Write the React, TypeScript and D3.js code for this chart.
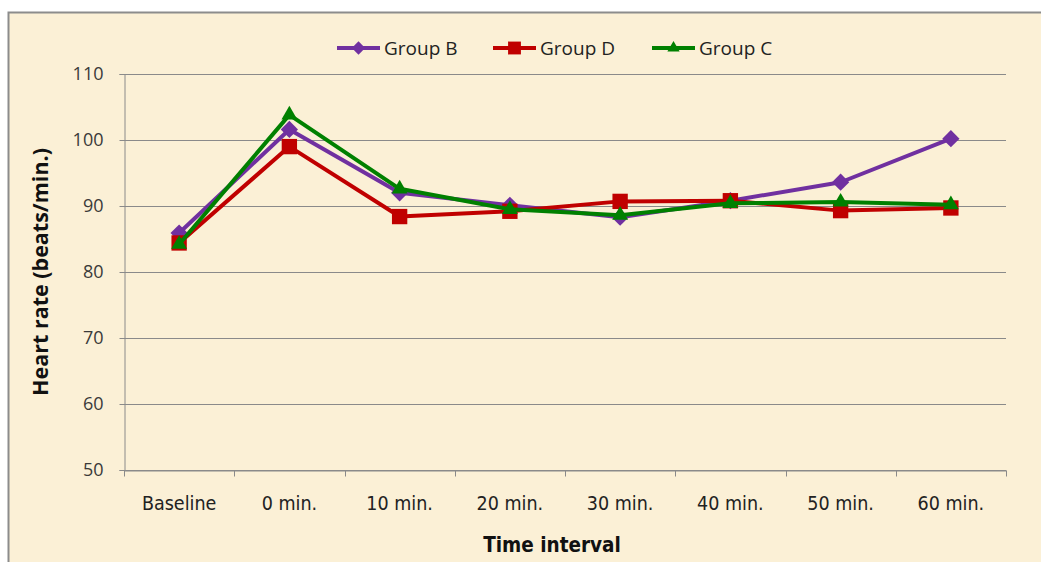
import { useEffect, useRef } from "react";
import * as d3 from "d3";

const categories = ["Baseline", "0 min.", "10 min.", "20 min.", "30 min.", "40 min.", "50 min.", "60 min."];
const groupB = [85.9, 101.6, 92.0, 90.1, 88.3, 90.8, 93.6, 100.2];
const groupD = [84.4, 99.0, 88.4, 89.2, 90.7, 90.8, 89.3, 89.7];
const groupC = [84.2, 103.8, 92.6, 89.5, 88.6, 90.4, 90.6, 90.2];
const yTicks = [50, 60, 70, 80, 90, 100, 110];

const series = [
  { name: "Group B", values: groupB, color: "#7030a0", marker: "diamond" },
  { name: "Group D", values: groupD, color: "#c00000", marker: "square" },
  { name: "Group C", values: groupC, color: "#008000", marker: "triangle" },
];

const width = 1041;
const height = 562;
const marginTop = 74;
const marginRight = 35;
const marginBottom = 92;
const marginLeft = 124;

const sansFont = "'Open Sans', 'DejaVu Sans', sans-serif";
const narrowFont = "'Liberation Sans Narrow', 'DejaVu Sans Condensed', 'Roboto Condensed', sans-serif";

function markerPath(kind: string, k = 1) {
  if (kind === "diamond") return d3.symbol(d3.symbolDiamond2, 190 * k)();
  if (kind === "square") return d3.symbol(d3.symbolSquare2, 300 * k)();
  return d3.symbol(d3.symbolTriangle2, 180 * k)();
}

export default function App() {
  const ref = useRef(null);

  useEffect(() => {
    const svg = d3.select(ref.current);
    svg.selectAll("*").remove();

    const x = d3.scaleBand()
      .domain(categories)
      .range([marginLeft, width - marginRight]);

    const y = d3.scaleLinear()
      .domain([50, 110])
      .range([height - marginBottom, marginTop]);

    // background + outer frame
    svg.append("rect")
      .attr("x", 0).attr("y", 0)
      .attr("width", width).attr("height", height)
      .attr("fill", "#fff");
    svg.append("rect")
      .attr("x", 8.5).attr("y", 12.5)
      .attr("width", width + 20).attr("height", height + 20)
      .attr("fill", "#fbf0d6")
      .attr("stroke", "#8c8c8c")
      .attr("stroke-width", 2);

    // gridlines
    svg.append("g")
      .selectAll("line")
      .data(yTicks)
      .join("line")
      .attr("x1", marginLeft)
      .attr("x2", width - marginRight)
      .attr("y1", d => Math.round(y(d)) + 0.5)
      .attr("y2", d => Math.round(y(d)) + 0.5)
      .attr("stroke", "#8a8a8a")
      .attr("stroke-width", 1);

    // y axis
    const gy = svg.append("g").attr("transform", `translate(${marginLeft + 0.5},0)`);
    gy.call(d3.axisLeft(y).tickValues(yTicks).tickSize(5).tickPadding(16))
      .call(g => g.select(".domain").attr("stroke", "#8a8a8a"))
      .call(g => g.selectAll(".tick line").attr("stroke", "#8a8a8a"))
      .call(g => g.selectAll(".tick text")
        .attr("font-family", sansFont)
        .attr("font-size", 18)
        .attr("fill", "#3a3a3a"));

    // x axis
    const gx = svg.append("g").attr("transform", `translate(0,${Math.round(y(50)) + 0.5})`);
    gx.call(d3.axisBottom(x).tickSize(0).tickPadding(26))
      .call(g => g.select(".domain").attr("stroke", "#8a8a8a"))
      .call(g => g.selectAll(".tick text")
        .attr("font-family", narrowFont)
        .attr("font-size", 19.5)
        .attr("fill", "#222"));
    gx.selectAll("line.sep")
      .data([...categories.map(c => x(c)), width - marginRight])
      .join("line")
      .attr("class", "sep")
      .attr("x1", d => Math.round(d) + 0.5)
      .attr("x2", d => Math.round(d) + 0.5)
      .attr("y1", 0)
      .attr("y2", 6)
      .attr("stroke", "#8a8a8a");

    // axis titles
    svg.append("text")
      .attr("transform", `translate(48,${(marginTop + height - marginBottom) / 2}) rotate(-90)`)
      .attr("text-anchor", "middle")
      .attr("font-family", sansFont)
      .attr("font-weight", "bold")
      .attr("font-size", 21.5)
      .attr("fill", "#111")
      .text("Heart rate (beats/min.)");

    svg.append("text")
      .attr("x", 552)
      .attr("y", 552)
      .attr("text-anchor", "middle")
      .attr("font-family", narrowFont)
      .attr("font-weight", "bold")
      .attr("font-size", 20.5)
      .attr("fill", "#111")
      .text("Time interval");

    const cx = (i: number) => x(categories[i]) + x.bandwidth() / 2;
    const line = d3.line<number>()
      .x((d, i) => cx(i))
      .y(d => y(d));

    series.forEach(s => {
      const g = svg.append("g");
      g.append("path")
        .datum(s.values)
        .attr("d", line)
        .attr("fill", "none")
        .attr("stroke", s.color)
        .attr("stroke-width", 4)
        .attr("stroke-linejoin", "round");
      g.selectAll("path.m")
        .data(s.values)
        .join("path")
        .attr("class", "m")
        .attr("d", markerPath(s.marker))
        .attr("transform", (d, i) => `translate(${cx(i)},${y(d)})`)
        .attr("fill", s.color);
    });

    // legend
    const legendX = [337, 493, 652];
    const lg = svg.append("g").attr("transform", "translate(0,48)");
    series.forEach((s, i) => {
      const g = lg.append("g").attr("transform", `translate(${legendX[i]},0)`);
      g.append("line")
        .attr("x1", 0).attr("x2", 43)
        .attr("stroke", s.color)
        .attr("stroke-width", 4);
      g.append("path")
        .attr("d", markerPath(s.marker, s.marker === "square" ? 0.7 : 0.6))
        .attr("transform", "translate(21.5,0)")
        .attr("fill", s.color);
      g.append("text")
        .attr("x", 47)
        .attr("y", 7)
        .attr("font-family", sansFont)
        .attr("font-size", 19)
        .attr("fill", "#222")
        .text(s.name);
    });
  }, []);

  return (
    <svg
      ref={ref}
      width={width}
      height={height}
      style={{ position: "absolute", left: 0, top: 0 }}
    />
  );
}
